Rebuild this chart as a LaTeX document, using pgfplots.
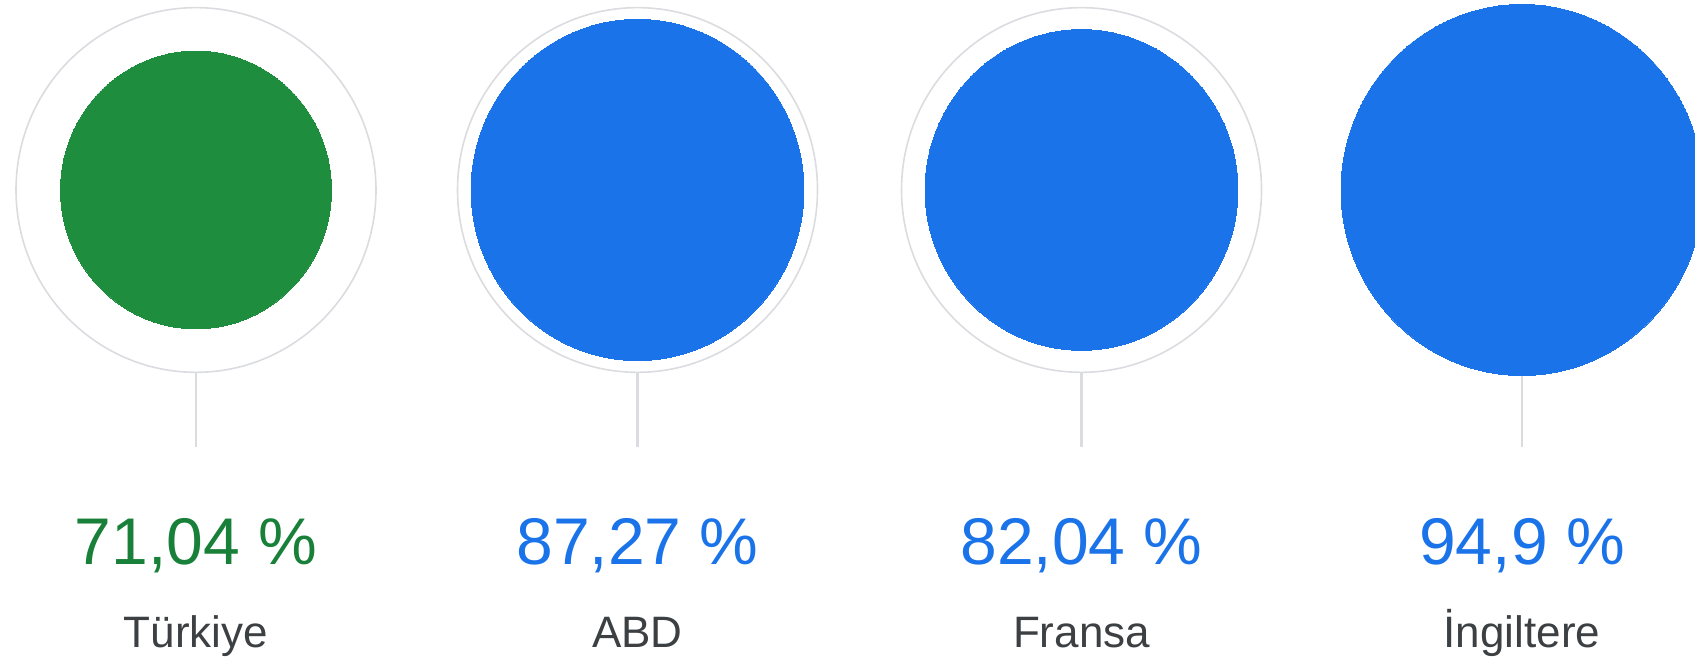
\documentclass[border=0pt]{standalone}
\usepackage{pgfplots}
\pgfplotsset{compat=1.18}
\usepackage{pgfplotstable}
\usepackage{fontspec}
\setmainfont{Liberation Sans}
\definecolor{gblue}{HTML}{1A73E8}
\definecolor{ggreen}{HTML}{1E8E3E}
\definecolor{ggreentext}{HTML}{188038}
\definecolor{ring}{HTML}{DADCE0}
\definecolor{labgray}{HTML}{3C4043}
% x = centre (px), y = centre height (px from bottom), v = value (%)
\pgfplotstableread{
x y v
196 472 71.04
}\turkey
\pgfplotstableread{
x y v
637.5 472 87.27
1081.5 472 82.04
1522 472 94.9
}\others
\pgfplotstableread{
x y
196 472
637.5 472
1081.5 472
1522 472
}\rings
\begin{document}
\begin{tikzpicture}
\begin{axis}[
  width=847.5pt, height=331pt, scale only axis,
  xmin=0, xmax=1695, ymin=0, ymax=662,
  hide axis, clip marker paths=true,
]
% stems
\addplot[ring, line width=1.15pt] coordinates {(196,472) (196,215)};
\addplot[ring, line width=1.15pt] coordinates {(637.5,472) (637.5,215)};
\addplot[ring, line width=1.15pt] coordinates {(1081.5,472) (1081.5,215)};
\addplot[ring, line width=1.15pt] coordinates {(1522,472) (1522,215)};
% outer rings
\addplot[only marks, mark=*, mark size=90pt,
  mark options={draw=ring, fill=white, line width=0.8pt, yscale=1.013}] table {\rings};
% value circles
\addplot[scatter, only marks, mark=*,
  mark options={draw=ggreen, fill=ggreen, line width=0pt},
  scatter/use mapped color={draw=ggreen, fill=ggreen},
  visualization depends on={\thisrow{v}\as\val},
  scatter/@pre marker code/.append style={/tikz/mark size=0.9535*\val, /tikz/yscale=1.025}
] table {\turkey};
\addplot[scatter, only marks, mark=*,
  mark options={draw=gblue, fill=gblue, line width=0pt},
  scatter/use mapped color={draw=gblue, fill=gblue},
  visualization depends on={\thisrow{v}\as\val},
  scatter/@pre marker code/.append style={/tikz/mark size=0.9535*\val, /tikz/yscale=1.025}
] table {\others};
% labels
\node[anchor=base, text=ggreentext, font=\fontsize{33}{40}\selectfont] at (axis cs:196,97) {71,04 \%};
\node[anchor=base, text=gblue, font=\fontsize{33}{40}\selectfont] at (axis cs:637.5,97) {87,27 \%};
\node[anchor=base, text=gblue, font=\fontsize{33}{40}\selectfont] at (axis cs:1081.5,97) {82,04 \%};
\node[anchor=base, text=gblue, font=\fontsize{33}{40}\selectfont] at (axis cs:1522,97) {94,9 \%};
\node[anchor=base, text=labgray, font=\fontsize{22}{26}\selectfont] at (axis cs:196,14) {Türkiye};
\node[anchor=base, text=labgray, font=\fontsize{22}{26}\selectfont] at (axis cs:637.5,14) {ABD};
\node[anchor=base, text=labgray, font=\fontsize{22}{26}\selectfont] at (axis cs:1081.5,14) {Fransa};
\node[anchor=base, text=labgray, font=\fontsize{22}{26}\selectfont] at (axis cs:1522,14) {İngiltere};
\end{axis}
\pgfresetboundingbox
\path (current axis.south west) rectangle (current axis.north east);
\end{tikzpicture}
\end{document}
